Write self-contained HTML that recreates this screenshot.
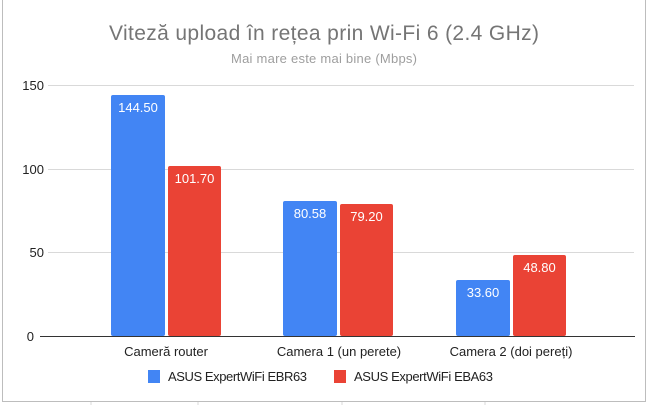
<!DOCTYPE html>
<html><head><meta charset="utf-8"><style>
body{margin:0;background:#fff;}
svg{display:block;font-family:"Liberation Sans",Arial,sans-serif;}
</style></head><body>
<svg width="648" height="405" viewBox="0 0 648 405">
<rect x="0" y="0" width="648" height="405" fill="#fff"/>
<rect x="2.5" y="-2" width="643" height="403.5" fill="none" stroke="#bdbdbd" stroke-width="1"/>
<g stroke="#d9d9d9" stroke-width="1">
<line x1="91" y1="402" x2="91" y2="405"/><line x1="198" y1="402" x2="198" y2="405"/><line x1="342" y1="402" x2="342" y2="405"/><line x1="485" y1="402" x2="485" y2="405"/>
</g>
<text x="324" y="40" text-anchor="middle" font-size="21" fill="#757575" textLength="430">Viteză upload în rețea prin Wi-Fi 6 (2.4 GHz)</text>
<text x="324" y="63" text-anchor="middle" font-size="13" fill="#9e9e9e" textLength="186">Mai mare este mai bine (Mbps)</text>
<g stroke="#d9d9d9" stroke-width="1">
<line x1="48" y1="85.5" x2="634" y2="85.5"/>
<line x1="48" y1="169.5" x2="634" y2="169.5"/>
<line x1="48" y1="252.5" x2="634" y2="252.5"/>
</g>
<g font-size="13" fill="#222" text-anchor="end">
<text x="44" y="90">150</text><text x="44" y="174">100</text><text x="44" y="257">50</text><text x="34" y="341">0</text>
</g>
<g fill="#4285f4">
<rect x="111" y="95" width="54" height="241" rx="2"/>
<rect x="283" y="201" width="54" height="135" rx="2"/>
<rect x="456" y="280" width="54" height="56" rx="2"/>
</g>
<g fill="#ea4335">
<rect x="168" y="166" width="53" height="170" rx="2"/>
<rect x="340" y="204" width="53" height="132" rx="2"/>
<rect x="513" y="255" width="53" height="81" rx="2"/>
</g>
<g font-size="13" fill="#fff" text-anchor="middle">
<text x="138" y="112">144.50</text><text x="194.5" y="183">101.70</text>
<text x="310" y="218">80.58</text><text x="366.5" y="221">79.20</text>
<text x="483" y="297">33.60</text><text x="539.5" y="272">48.80</text>
</g>
<line x1="40" y1="336.5" x2="635" y2="336.5" stroke="#333" stroke-width="1"/>
<g font-size="13" fill="#222" text-anchor="middle">
<text x="166" y="356">Cameră router</text>
<text x="339" y="356">Camera 1 (un perete)</text>
<text x="511" y="356">Camera 2 (doi pereți)</text>
</g>
<rect x="148" y="370" width="12" height="13" fill="#4285f4"/>
<text x="168" y="381" font-size="13" fill="#222" textLength="139">ASUS ExpertWiFi EBR63</text>
<rect x="334" y="370" width="12" height="13" fill="#ea4335"/>
<text x="354" y="381" font-size="13" fill="#222" textLength="139">ASUS ExpertWiFi EBA63</text>
</svg>
</body></html>
